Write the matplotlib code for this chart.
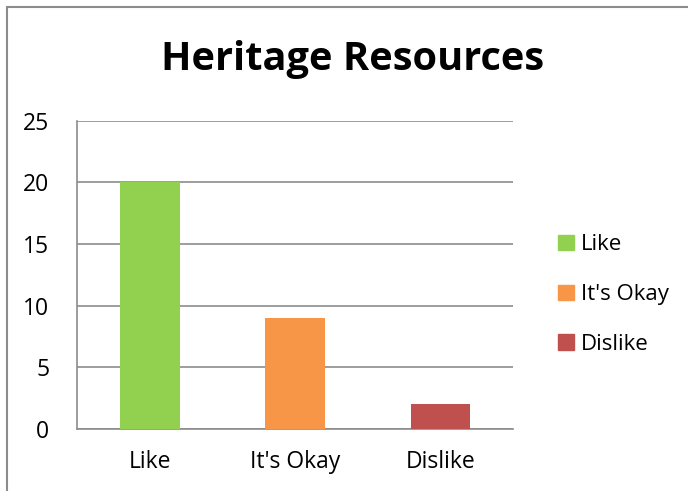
import matplotlib.pyplot as plt
from matplotlib.patches import Rectangle

# Survey answers
categories = ["Like", "It's Okay", "Dislike"]
counts = [20, 9, 2]
colors = ["#92D050", "#F79646", "#C0504D"]
yticks = [0, 5, 10, 15, 20, 25]

plt.rcParams["font.family"] = ["Open Sans", "DejaVu Sans"]

fig = plt.figure(figsize=(6.88, 4.91), dpi=100)
ax = fig.add_axes([0.112, 0.126, 0.634, 0.628])

# Outer chart frame (right and bottom edges fall outside the picture)
fig.patches.append(
    Rectangle((7 / 688, -0.1), 1.2, 1 - 7 / 491 + 0.1, transform=fig.transFigure,
              fill=False, edgecolor="#8c8c8c", linewidth=1.5, zorder=0)
)

# Bars
x = list(range(len(categories)))
rects = ax.bar(x, counts, width=0.41, color=colors, zorder=3, label=categories)

# Customize
ax.set_xlim(-0.5, 2.5)
ax.set_ylim(0, 25)
ax.set_yticks(yticks)
ax.set_xticks(x)
ax.set_xticklabels(categories)
ax.grid(which="major", axis="y", color="#8c8c8c", linewidth=1.2, zorder=0)
ax.tick_params(axis="y", length=0, labelsize=16.5, pad=20)
ax.tick_params(axis="x", length=0, labelsize=16.5, pad=15)
for side in ["top", "right"]:
    ax.spines[side].set_visible(False)
for side in ["left", "bottom"]:
    ax.spines[side].set_color("#8c8c8c")
    ax.spines[side].set_linewidth(1.2)

fig.text(0.512, 0.878, "Heritage Resources", ha="center", va="center",
         fontsize=28.6, fontweight="bold")

# Legend
handles = [Rectangle((0, 0), 1, 1, color=c) for c in colors]
fig.legend(handles, categories, loc="center left", bbox_to_anchor=(0.782, 0.40),
           frameon=False, fontsize=16, handlelength=0.7, handleheight=0.7,
           labelspacing=1.3, handletextpad=0.35)

plt.savefig("out.png", dpi=100)
